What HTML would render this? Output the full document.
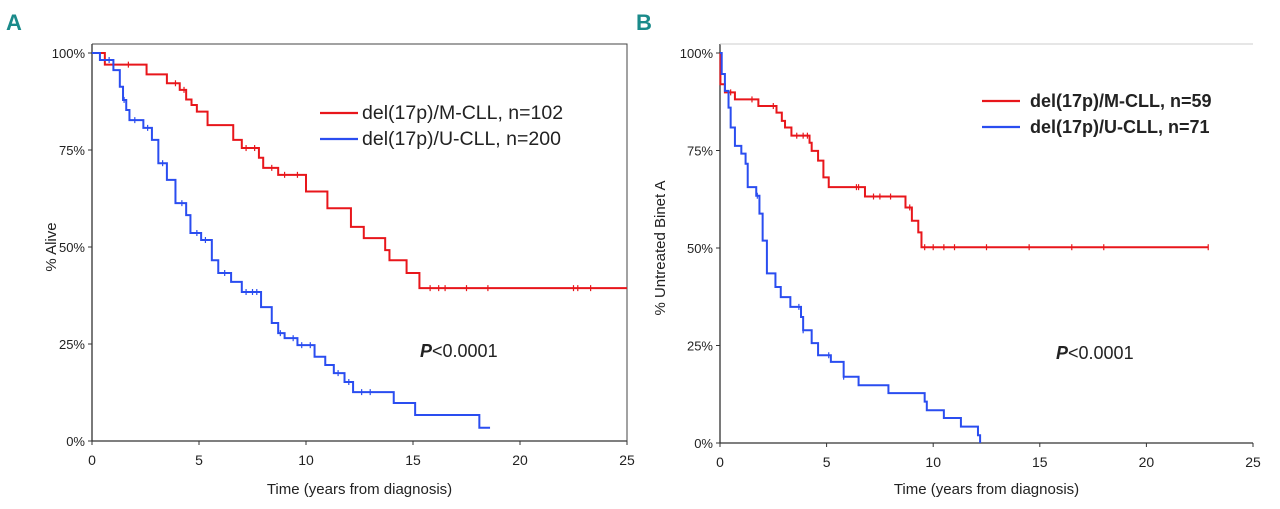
<!DOCTYPE html>
<html><head><meta charset="utf-8"><style>
body{margin:0;background:#fff;width:1280px;height:504px;overflow:hidden;font-family:"Liberation Sans",sans-serif;}
svg text{font-family:"Liberation Sans",sans-serif;fill:#222;}
</style></head><body>
<svg id="chart" width="1280" height="504"></svg>
<script>
// Panel A data: [time(years), survival %] drop points
const aRedT=[0,0.6,2.55,3.5,4.1,4.4,4.65,4.9,5.4,6.6,7.0,7.8,8.0,8.7,10.0,11.0,12.1,12.7,13.7,13.9,14.7,15.3,25];
const aRedS=[100,97,94.5,92.2,90.5,88,86.6,84.9,81.4,77.6,75.5,73,70.4,68.6,64.3,60,55.2,52.3,49.2,46.6,43.3,39.4,39.4];
const aRedCens=[1.7,3.9,4.3,7.2,7.6,8.4,9.0,9.6,15.8,16.2,16.5,17.5,18.5,22.5,22.7,23.3];
const aBlueT=[0,0.37,1.0,1.3,1.45,1.6,1.75,2.4,2.8,3.1,3.5,3.9,4.4,4.6,5.1,5.6,5.9,6.5,7.0,7.9,8.4,8.7,9.0,9.6,10.4,10.9,11.3,11.8,12.2,14.1,15.1,18.1,18.6];
const aBlueS=[100,98.2,95.6,91.3,87.9,85.3,82.7,80.7,77.6,71.6,67.3,61.3,58.2,53.6,51.8,46.6,43.3,41,38.4,34.5,30.4,27.8,26.5,24.7,21.7,19.6,17.5,15.2,12.6,9.8,6.7,3.4,3.4];
const aBlueCens=[0.8,1.5,2.0,2.6,3.3,4.2,4.9,5.3,6.2,7.2,7.5,7.7,8.8,9.4,9.8,10.2,11.5,12.0,12.6,13.0];
// Panel B data
const bRedT=[0,0.02,0.23,0.7,1.8,2.65,2.9,3.05,3.35,4.2,4.3,4.6,4.85,5.1,6.8,8.7,9.0,9.3,9.45,22.9];
const bRedS=[100,92,89.9,88.1,86.4,84.7,82.6,80.9,78.8,77,74.9,72.4,68.1,65.6,63.2,60.4,57,54,50.2,50.2];
const bRedCens=[0.5,1.5,2.5,3.6,3.9,4.1,6.4,6.5,7.2,7.5,8.0,8.9,9.6,10.0,10.5,11.0,12.5,14.5,16.5,18.0,22.9];
const bBlueT=[0,0.08,0.23,0.4,0.5,0.7,1.0,1.2,1.3,1.7,1.85,2.0,2.2,2.6,2.85,3.3,3.8,3.9,4.3,4.6,5.2,5.8,6.5,7.9,9.6,9.7,10.5,11.3,12.1,12.2];
const bBlueS=[100,94.6,90.3,86,80.9,76.2,74.2,71.6,65.6,63.4,58.8,51.9,43.5,40,37.4,34.9,32.3,28.9,25.6,22.5,20.8,17,14.8,12.8,10.6,8.4,6.4,4.2,2,0];
const bBlueCens=[1.75,3.7,3.9,5.1,5.8];
const xTicks=[0,5,10,15,20,25];
const yTicks=[0,25,50,75,100];

const svg=document.getElementById('chart');
const NS='http://www.w3.org/2000/svg';
function mk(tag,attrs,parent){const e=document.createElementNS(NS,tag);for(const k in attrs)e.setAttribute(k,attrs[k]);(parent||svg).appendChild(e);return e;}

function panel(p){
  const g=mk('g',{});
  
  
  const xs=t=>p.x0+(p.x1-p.x0)*t/25;
  const ys=s=>p.y0+(p.y100-p.y0)*s/100;
  const ax=mk('path',{d:`M${p.x0},${p.top} L${p.x0},${p.y0} L${p.x1},${p.y0}`,stroke:'#333',fill:'none','stroke-width':1.3},g);
  
  
  const tb=mk('path',{d:p.rightBorder?`M${p.x0},${p.top} L${p.x1},${p.top} L${p.x1},${p.y0}`:`M${p.x0},${p.top} L${p.x1},${p.top}`,stroke:p.rightBorder?'#444':'#ccc',fill:'none','stroke-width':1},g);
  
  
  xTicks.forEach(v=>{
    mk('line',{x1:xs(v),x2:xs(v),y1:p.y0,y2:p.y0+4,stroke:'#333'},g);
    const t=mk('text',{x:xs(v),y:p.y0+24,'text-anchor':'middle','font-size':14},g);
    t.textContent=v;
    
    
  });
  yTicks.forEach(v=>{
    mk('line',{x1:p.x0-4,x2:p.x0,y1:ys(v),y2:ys(v),stroke:'#333'},g);
    const t=mk('text',{x:p.x0-7,y:ys(v)+5,'text-anchor':'end','font-size':13},g);
    t.textContent=v+'%';
    
    
  });
  const xt=mk('text',{x:(p.x0+p.x1)/2,y:494,'text-anchor':'middle','font-size':15},g);
  xt.textContent='Time (years from diagnosis)';
  
  
  const yt=mk('text',{x:0,y:0,'text-anchor':'middle','font-size':15,transform:`translate(${p.ytx},${(p.y0+p.y100)/2}) rotate(-90)`},g);
  yt.textContent=p.ytitle;
  
  
  function curve(T,S,C,color,nm){
    let d=`M${xs(T[0])},${ys(S[0])}`;
    for(let i=1;i<T.length;i++){d+=` L${xs(T[i])},${ys(S[i-1])} L${xs(T[i])},${ys(S[i])}`;}
    const c=mk('path',{d,stroke:color,fill:'none','stroke-width':2},g);
    
    
    C.forEach(t=>{
      let s=S[0];for(let i=0;i<T.length;i++){if(T[i]<=t)s=S[i];}
      const m=mk('line',{x1:xs(t),x2:xs(t),y1:ys(s)-3,y2:ys(s)+3,stroke:color,'stroke-width':1.2},g);
      
      
    });
  }
  curve(p.rT,p.rS,p.rC,'#e8161b',p.name+'-m-cll-curve');
  curve(p.bT,p.bS,p.bC,'#2a4df0',p.name+'-u-cll-curve');
  p.legend.forEach((L,i)=>{
    const y=p.ly+i*26;
    const ln=mk('line',{x1:p.lx,x2:p.lx+38,y1:y,y2:y,stroke:L[1],'stroke-width':2.2},g);
    
    
    const t=mk('text',{x:p.lx+p.loff,y:y+6,'font-size':p.lfs,'font-weight':p.bold?'bold':'normal'},g);
    t.textContent=L[0];
    
    
  });
  const pv=mk('text',{x:p.px,y:p.py,'font-size':18},g);
  pv.innerHTML='<tspan font-style="italic" font-weight="bold">P</tspan>&lt;0.0001';
  
  
  const lb=mk('text',{x:p.labx,y:30,'font-size':22,'font-weight':'bold',style:'fill:#1a8a8a'},g);
  lb.textContent=p.label;
  
  
}
panel({name:'panel-a',label:'A',labx:6,x0:92,x1:627,top:44,y0:441,y100:53,rightBorder:true,ytx:56,ytitle:'% Alive',
  rT:aRedT,rS:aRedS,rC:aRedCens,bT:aBlueT,bS:aBlueS,bC:aBlueCens,
  legend:[['del(17p)/M-CLL, n=102','#e8161b'],['del(17p)/U-CLL, n=200','#2a4df0']],lx:320,ly:113,loff:42,lfs:19.5,bold:false,px:420,py:357});
panel({name:'panel-b',label:'B',labx:636,x0:720,x1:1253,top:44,y0:443,y100:53,rightBorder:false,ytx:665,ytitle:'% Untreated Binet A',
  rT:bRedT,rS:bRedS,rC:bRedCens,bT:bBlueT,bS:bBlueS,bC:bBlueCens,
  legend:[['del(17p)/M-CLL, n=59','#e8161b'],['del(17p)/U-CLL, n=71','#2a4df0']],lx:982,ly:101,loff:48,lfs:18,bold:true,px:1056,py:359});
</script>
</body></html>
